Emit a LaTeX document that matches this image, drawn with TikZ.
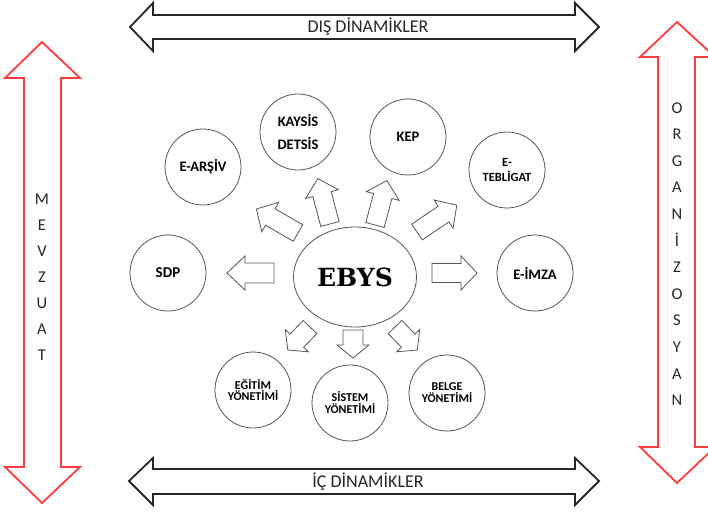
\documentclass[tikz,border=0pt]{standalone}
\usepackage{fontspec}
\setmainfont{Carlito}
\newfontfamily\slabfont{DejaVu Serif}
\usetikzlibrary{shapes.geometric}
\definecolor{bigred}{HTML}{FF3B3B}
\definecolor{linegray}{HTML}{555555}
\newcommand{\blkarrow}[7]{%
  \draw[smallarrow, shift={(#1,#2)}, rotate=#3]
    (0,-#5) -- ({#4-#7},-#5) -- ({#4-#7},-#6) -- (#4,0) -- ({#4-#7},#6) -- ({#4-#7},#5) -- (0,#5) -- cycle;}
\begin{document}
\begin{tikzpicture}[x=1pt,y=-1pt,
  circ/.style={circle, draw=linegray, line width=0.8pt, minimum size=76pt, inner sep=0pt, align=center, font=\bfseries\fontsize{14.5}{16}\selectfont},
  smallarrow/.style={draw=linegray, line width=0.8pt, fill=white, line join=miter},
  bigblack/.style={draw=black!85, line width=1.8pt, line join=miter},
  bigred/.style={draw=bigred, line width=1.8pt, line join=miter},
  bandtext/.style={font=\fontsize{18}{20}\selectfont, text=black!85},
  vtext/.style={align=center, text=black!85}]
\clip (0,0) rectangle (708,513);
\fill[white] (0,0) rectangle (708,513);
% big double arrows
\draw[bigblack] (130,27) -- (153,3) -- (153,15) -- (575,15) -- (575,3) -- (599,27) -- (575,51) -- (575,39) -- (153,39) -- (153,51) -- cycle;
\draw[bigblack] (129,481) -- (153,458) -- (153,469) -- (575,469) -- (575,458) -- (599,481) -- (575,505) -- (575,494) -- (153,494) -- (153,505) -- cycle;
\draw[bigred] (42,42) -- (80,78) -- (61,78) -- (61,467) -- (80,467) -- (42,503) -- (5,467) -- (24,467) -- (24,78) -- (5,78) -- cycle;
\draw[bigred] (677,22) -- (715,57) -- (695,57) -- (695,447) -- (715,447) -- (677,483) -- (640,447) -- (658,447) -- (658,57) -- (640,57) -- cycle;
\node[bandtext] (dis) at (368,27) {DIŞ DİNAMİKLER};
\node[bandtext] (ic) at (368,482) {İÇ DİNAMİKLER};
\node[vtext, font=\fontsize{16.5}{26}\selectfont] (mevzuat) at (42,277) {M\\E\\V\\Z\\U\\A\\T};
\node[vtext, font=\fontsize{16.5}{26.6}\selectfont] (org) at (677,254) {O\\R\\G\\A\\N\\İ\\Z\\O\\S\\Y\\A\\N};
% center
\node[ellipse, draw=linegray, line width=0.8pt, minimum width=123pt, minimum height=100pt, inner sep=0pt, font=\slabfont\bfseries\fontsize{25}{28}\selectfont] (ebys) at (355,277) {EBYS};
% circles
\node[circ] (arsiv) at (203,167) {E-ARŞİV};
\node[circ, font=\bfseries\fontsize{14.5}{23}\selectfont] (kaysis) at (298,132) {KAYSİS\\DETSİS};
\node[circ] (kep) at (408,137) {KEP};
\node[circ, font=\bfseries\fontsize{12.5}{15}\selectfont] (teblig) at (507,170) {E-\\TEBLİGAT};
\node[circ] (imza) at (535,273) {E-İMZA};
\node[circ, font=\bfseries\fontsize{15}{17}\selectfont] (sdp) at (168,273) {SDP};
\node[circ, font=\bfseries\fontsize{12}{11.5}\selectfont] (egitim) at (253,390) {EĞİTİM\\YÖNETİMİ};
\node[circ, font=\bfseries\fontsize{12}{12}\selectfont] (sistem) at (350,403) {SİSTEM\\YÖNETİMİ};
\node[circ, font=\bfseries\fontsize{12}{12}\selectfont] (belge) at (447,393) {BELGE\\YÖNETİMİ};
% block arrows
\blkarrow{432}{273}{0}{45}{9.5}{17}{16}
\blkarrow{274}{273}{180}{47}{10}{17}{18}
\blkarrow{353}{330}{-90}{28}{10}{16}{13}
\blkarrow{310}{327}{-134}{32}{9.5}{16}{13}
\blkarrow{395}{327}{-46}{32}{9.5}{16}{13}
\blkarrow{298}{233}{150}{48}{9.5}{17}{16}
\blkarrow{330}{224}{105}{47}{9.5}{17}{16}
\blkarrow{375}{225}{75}{46}{9.5}{17}{16}
\blkarrow{417}{232}{34}{48}{9.5}{17}{16}
\end{tikzpicture}
\end{document}
